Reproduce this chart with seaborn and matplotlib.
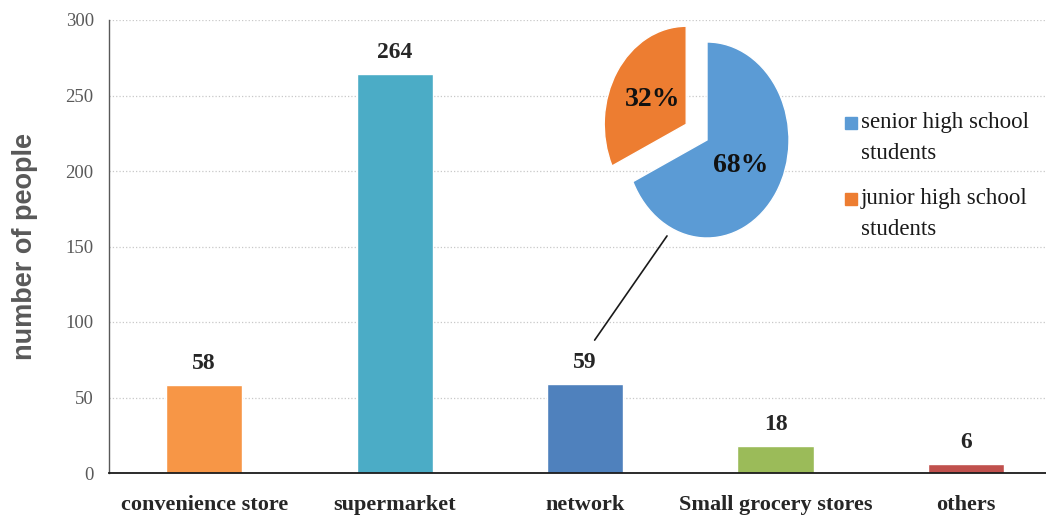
import matplotlib
matplotlib.use('Agg')
import matplotlib.pyplot as plt
import matplotlib.patches as mpatches
import pandas as pd
import seaborn as sns

# Data
channels = ['convenience store', 'supermarket', 'network', 'Small grocery stores', 'others']
people = [58, 264, 59, 18, 6]
bar_colors = ['#F79646', '#4BACC6', '#4F81BD', '#9BBB59', '#C0504D']

pie_labels = ['senior high school\nstudents', 'junior high school\nstudents']
pie_shares = [68, 32]
pie_colors = ['#5B9BD5', '#ED7D31']

sns.set_theme(style='white')
plt.rcParams['font.family'] = ['Liberation Serif', 'DejaVu Serif']

df = pd.DataFrame({'channel': channels, 'people': people})

W, H = 1046, 516
fig = plt.figure(figsize=(W / 100, H / 100), dpi=100)
ax = fig.add_axes([109 / W, 43 / H, 1 - 109 / W, 453 / H])

sns.barplot(data=df, x='channel', y='people', hue='channel', palette=bar_colors,
            order=channels, hue_order=channels, width=0.4, legend=False,
            saturation=1, ax=ax)

for cont in ax.containers:
    ax.bar_label(cont, padding=8, fontsize=17, fontweight='bold', color='#262626')

ax.set_xlim(-0.5, 4.42)
ax.set_ylim(0, 300)
ax.set_yticks(range(0, 301, 50))
ax.yaxis.grid(True, linestyle=':', color='#C8C8C8', linewidth=0.9)
ax.set_axisbelow(True)

ax.tick_params(axis='x', length=0, pad=16, labelsize=16, labelcolor='#262626')
ax.tick_params(axis='y', length=0, pad=11, labelsize=13.5, labelcolor='#595959')
for lab in ax.get_xticklabels():
    lab.set_fontweight('bold')

ax.set_xlabel('')
ax.set_ylabel('number of people', fontsize=19.5, fontweight='bold', color='#595959',
              family='Liberation Sans', labelpad=20)

for side in ['top', 'right']:
    ax.spines[side].set_visible(False)
ax.spines['left'].set_color('#595959')
ax.spines['left'].set_linewidth(1.0)
ax.spines['bottom'].set_color('#1a1a1a')
ax.spines['bottom'].set_linewidth(1.3)

# connector from the network bar to the pie
ax.plot([2.05, 2.43], [88, 157], color='#1a1a1a', linewidth=1.2, clip_on=False)

# pie inset (slightly stretched vertically, as in the reference)
pax = fig.add_axes([625 / W, (H - 238) / H, 164 / W, 196 / H])
wedges, texts, autotexts = pax.pie(pie_shares, colors=pie_colors, startangle=90,
                                   counterclock=False, explode=[0, 0.3],
                                   autopct='%d%%', pctdistance=0.48,
                                   textprops={'fontsize': 20, 'fontweight': 'bold',
                                              'color': '#111111'})
pax.set_aspect('auto')
pax.set_xlim(-1, 1)
pax.set_ylim(-1, 1)
pax.axis('off')
for w in wedges:
    w.set_clip_on(False)
for t in autotexts:
    t.set_clip_on(False)

# legend for the pie: square aligned with the first text line
for i, (lab, col) in enumerate(zip(pie_labels, pie_colors)):
    ytop = 112 + i * 76
    fig.patches.append(mpatches.Rectangle((845 / W, 1 - (ytop + 17) / H), 12 / W, 12 / H,
                                          transform=fig.transFigure, color=col))
    fig.text(861 / W, 1 - ytop / H, lab, ha='left', va='top', fontsize=16.5,
             linespacing=1.65, color='#1a1a1a')

fig.savefig('out.png', dpi=100)
